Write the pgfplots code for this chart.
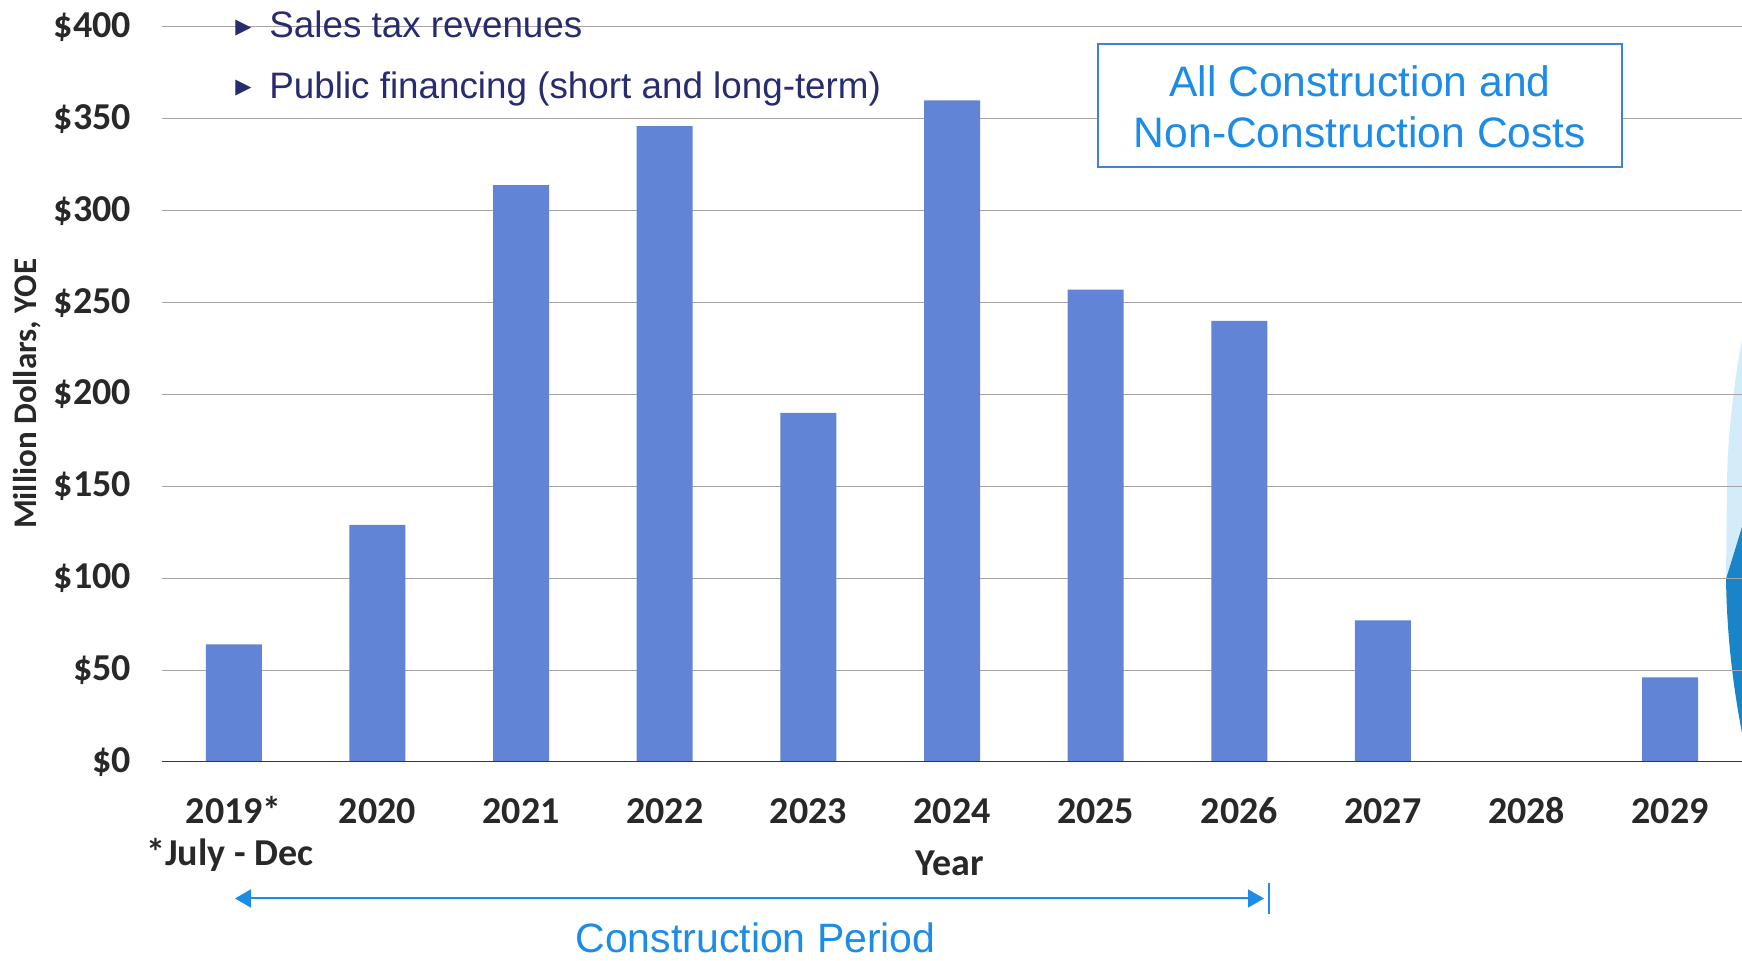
\documentclass[border=0pt]{standalone}
\usepackage{fontspec}
\setmainfont{Liberation Sans}
\newfontfamily\carlito{Carlito}
\newfontfamily\dejavu{DejaVu Sans}
\usepackage{pgfplots}
\pgfplotsset{compat=1.18}
\usetikzlibrary{arrows.meta}
\definecolor{barblue}{RGB}{98,132,214}
\definecolor{gridc}{RGB}{170,163,165}
\definecolor{axisc}{RGB}{65,50,70}
\definecolor{navy}{RGB}{40,44,110}
\definecolor{brightblue}{RGB}{28,140,230}
\definecolor{boxblue}{RGB}{60,130,215}
\definecolor{ticktext}{RGB}{40,40,40}
\definecolor{decolight}{RGB}{210,236,249}
\definecolor{decodark}{RGB}{25,132,200}
\begin{document}
\begin{tikzpicture}
\useasboundingbox (0,0) rectangle (871pt,480.5pt);
% decoration at right edge
\fill[decolight] (871pt,310.5pt) .. controls (867pt,290pt) and (863.5pt,260pt) .. (863.5pt,237pt) -- (863pt,191pt) -- (871pt,217pt) -- cycle;
\fill[decodark] (871pt,217pt) -- (863pt,191pt) .. controls (863.5pt,160pt) and (867pt,135pt) .. (871pt,114pt) -- cycle;
\begin{axis}[
  at={(81pt,99.5pt)}, anchor=south west,
  width=790pt, height=367.5pt, scale only axis,
  xmin=-0.5, xmax=10.5, ymin=0, ymax=400,
  axis line style={draw=none},
  major tick style={draw=none},
  ymajorgrids, grid style={gridc, line width=0.5pt},
  ytick={0,50,...,400},
  yticklabels={\$0,\$50,\$100,\$150,\$200,\$250,\$300,\$350,\$400},
  xtick={0,...,10},
  xticklabels={2019*,2020,2021,2022,2023,2024,2025,2026,2027,2028,2029},
  ticklabel style={font=\carlito\bfseries\fontsize{19}{19}\selectfont, text=ticktext},
  yticklabel style={xshift=-12pt},
  xticklabel style={anchor=base, yshift=-31pt},
]
\addplot[ybar, bar width=28pt, fill=barblue, draw=none] coordinates {
  (0,64) (1,129) (2,314) (3,346) (4,190) (5,360) (6,257) (7,240) (8,77) (9,0) (10,46)};
\draw[axisc, line width=1.2pt] (axis cs:-0.5,0) -- (axis cs:10.5,0);
\end{axis}
% axis titles
\node[font=\carlito\bfseries\fontsize{16.5}{16.5}\selectfont, text=ticktext, rotate=90] at (13.5pt,283.5pt) {Million Dollars, YOE};
\node[font=\carlito\bfseries\fontsize{19}{19}\selectfont, text=ticktext] at (115pt,53pt) {*July - Dec};
\node[font=\carlito\bfseries\fontsize{19}{19}\selectfont, text=ticktext] at (475pt,49pt) {Year};
% construction period arrow
\draw[brightblue, line width=1pt, {Triangle[length=8pt,width=9pt]}-{Triangle[length=8pt,width=9pt]}] (117.5pt,31.25pt) -- (632pt,31.25pt);
\draw[brightblue, line width=1pt] (634.5pt,23.5pt) -- (634.5pt,39pt);
\node[anchor=base, inner sep=0pt, font=\fontsize{20.5}{20.5}\selectfont, text=brightblue] at (377.8pt,4pt) {Construction Period};
% bullets
\node[text=navy, font=\dejavu\fontsize{10.5}{10.5}\selectfont, inner sep=0pt] at (121.7pt,466.6pt) {▶};
\node[text=navy, font=\dejavu\fontsize{10.5}{10.5}\selectfont, inner sep=0pt] at (121.7pt,436.6pt) {▶};
\node[anchor=base west, text=navy, font=\fontsize{18.4}{18.4}\selectfont, inner sep=0pt] at (134.5pt,461.6pt) {Sales tax revenues};
\node[anchor=base west, text=navy, font=\fontsize{18.4}{18.4}\selectfont, inner sep=0pt] at (134.5pt,431pt) {Public financing (short and long-term)};
% box
\draw[boxblue, line width=1pt, fill=white] (548.9pt,397.2pt) rectangle (811.1pt,458.3pt);
\node[anchor=base, text=brightblue, font=\fontsize{21.3}{21.3}\selectfont, inner sep=0pt] at (680pt,432.2pt) {All Construction and};
\node[anchor=base, text=brightblue, font=\fontsize{21.3}{21.3}\selectfont, inner sep=0pt] at (680pt,406.6pt) {Non-Construction Costs};
\end{tikzpicture}
\end{document}
